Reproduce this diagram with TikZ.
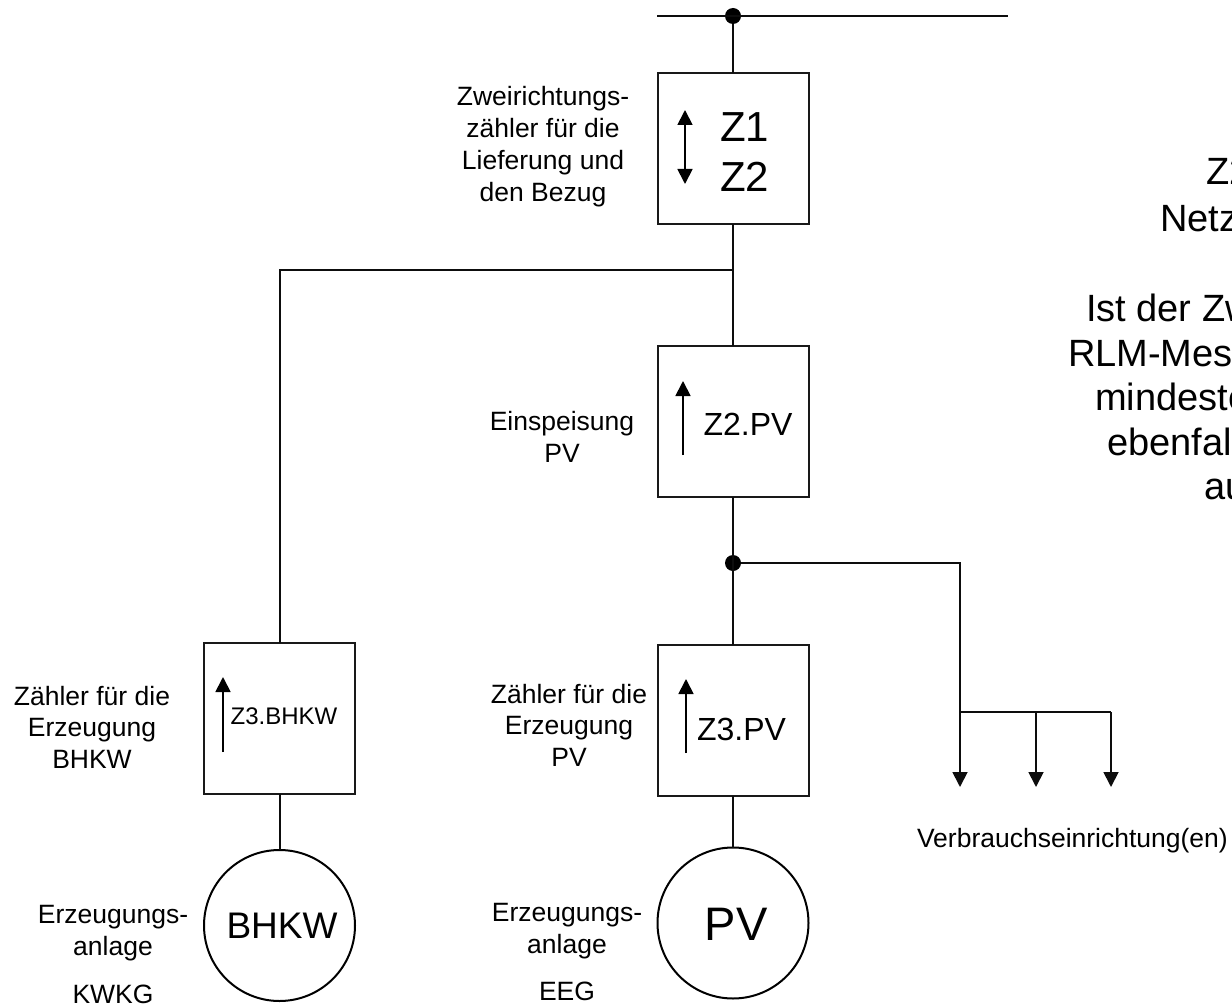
\documentclass[tikz,border=0pt]{standalone}
\usepackage{fontspec}
\setmainfont{Liberation Sans}
\usetikzlibrary{arrows.meta}
\newcommand{\fs}[2]{\fontsize{#1}{#2}\selectfont}
\newcommand{\cen}[1]{\begin{tabular}[t]{@{}c@{}}#1\end{tabular}}
\newcommand{\lef}[1]{\begin{tabular}[t]{@{}l@{}}#1\end{tabular}}
\tikzset{
  wire/.style={line width=2pt,draw=black!95},
  meterbox/.style={rectangle,draw=black!90,line width=2pt,minimum width=151pt,minimum height=151pt,inner sep=0pt,outer sep=0pt},
  plant/.style={circle,draw=black,line width=2pt,minimum size=151pt,inner sep=0pt,outer sep=0pt},
  dotnode/.style={circle,fill=black,minimum size=16pt,inner sep=0pt,outer sep=0pt},
  lab/.style={inner sep=0pt,outer sep=0pt,anchor=base,text=black},
  labw/.style={inner sep=0pt,outer sep=0pt,anchor=base west,text=black},
  tip/.style={-{Triangle[length=15pt,width=15pt]},line width=1.8pt},
  tips/.style={{Triangle[length=15pt,width=15pt]}-{Triangle[length=15pt,width=15pt]},line width=1.8pt}
}
\begin{document}
\begin{tikzpicture}[x=1pt,y=-1pt]
\path[use as bounding box] (0,0) rectangle (1232,1006);
\clip (0,0) rectangle (1232,1006);
% meters and plants
\node[meterbox] (z1) at (733,148.5) {};
\node[meterbox] (z2) at (733,421.5) {};
\node[meterbox] (z3) at (733,720) {};
\node[meterbox] (zb) at (279.5,718) {};
\node[plant] (pv) at (733,923) {};
\node[plant] (bh) at (279.5,925.5) {};
% junctions
\node[dotnode] (d1) at (733,16) {};
\node[dotnode] (d2) at (733,563) {};
\coordinate (busl) at (657,16);
\coordinate (busr) at (1008,16);
\coordinate (ja) at (733,270);
\coordinate (c1) at (960,563);
\coordinate (c2) at (960,712);
\coordinate (c3) at (1036,712);
\coordinate (c4) at (1111,712);
\coordinate (t1) at (960,787);
\coordinate (t2) at (1036,787);
\coordinate (t3) at (1111,787);
% connectors
\draw[wire] (busl) -- (busr);
\draw[wire] (d1) -- (z1.north);
\draw[wire] (z1.south) -- (z2.north);
\draw[wire] (z2.south) -- (z3.north);
\draw[wire] (ja) -- (zb.north |- ja) -- (zb.north);
\draw[wire] (zb.south) -- (bh.north);
\draw[wire] (z3.south) -- (pv.north);
\draw[wire] (d2) -- (c1) -- (c2);
\draw[wire] (c2) -- (c4);
\draw[wire,tip] (c2) -- (t1);
\draw[wire,tip] (c3) -- (t2);
\draw[wire,tip] (c4) -- (t3);
% meter arrows
\coordinate (a1a) at (685,110); \coordinate (a1b) at (685,184);
\coordinate (a2a) at (683,381); \coordinate (a2b) at (683,455);
\coordinate (a3a) at (686,679); \coordinate (a3b) at (686,753);
\coordinate (a4a) at (223,677); \coordinate (a4b) at (223,752);
\draw[tips] (a1a) -- (a1b);
\draw[tip] (a2b) -- (a2a);
\draw[tip] (a3b) -- (a3a);
\draw[tip] (a4b) -- (a4a);
% box texts
\node[labw,font=\fs{42}{50}] (tz1) at (720,142) {\lef{Z1\\Z2}};
\node[lab,font=\fs{32}{37}] (tz2) at (748,435) {Z2.PV};
\node[lab,font=\fs{32}{37}] (tz3) at (741.5,740) {Z3.PV};
\node[lab,font=\fs{24}{28}] (tzb) at (284,724) {Z3.BHKW};
\node[lab,font=\fs{37}{43}] (tbh) at (282,938) {BHKW};
\node[lab,font=\fs{47}{54}] (tpv) at (736,940) {PV};
% side labels
\node[lab,font=\fs{26.5}{32}] (l1) at (543,106) {\cen{Zweirichtungs-\\zähler für die\\Lieferung und\\den Bezug}};
\node[lab,font=\fs{26.5}{32}] (l2) at (562,430) {\cen{Einspeisung\\PV}};
\node[lab,font=\fs{26.5}{31.5}] (l3) at (92,705) {\cen{Zähler für die\\Erzeugung\\BHKW}};
\node[lab,font=\fs{26.5}{31.5}] (l4) at (569,703) {\cen{Zähler für die\\Erzeugung\\PV}};
\node[lab,font=\fs{26.5}{32}] (l5) at (113,923) {\cen{Erzeugungs-\\anlage}};
\node[lab,font=\fs{26.5}{32}] (l6) at (113,1003) {KWKG};
\node[lab,font=\fs{26.5}{32}] (l7) at (567,921) {\cen{Erzeugungs-\\anlage}};
\node[lab,font=\fs{26.5}{32}] (l8) at (567,1000) {EEG};
\node[labw,font=\fs{26.5}{32}] (l9) at (917,847) {Verbrauchseinrichtung(en)};
% text running off the right edge
\node[labw,font=\fs{38}{45}] (r1) at (1206,185) {Z2};
\node[labw,font=\fs{38}{45}] (r2) at (1160,231) {Netz};
\node[labw,font=\fs{38}{45}] (r3) at (1086,321) {Ist der Zw};
\node[labw,font=\fs{38}{45}] (r4) at (1068,366) {RLM-Mess};
\node[labw,font=\fs{38}{45}] (r5) at (1095,410) {mindeste};
\node[labw,font=\fs{38}{45}] (r6) at (1107,455) {ebenfall};
\node[labw,font=\fs{38}{45}] (r7) at (1204,499) {au};
\end{tikzpicture}
\end{document}
